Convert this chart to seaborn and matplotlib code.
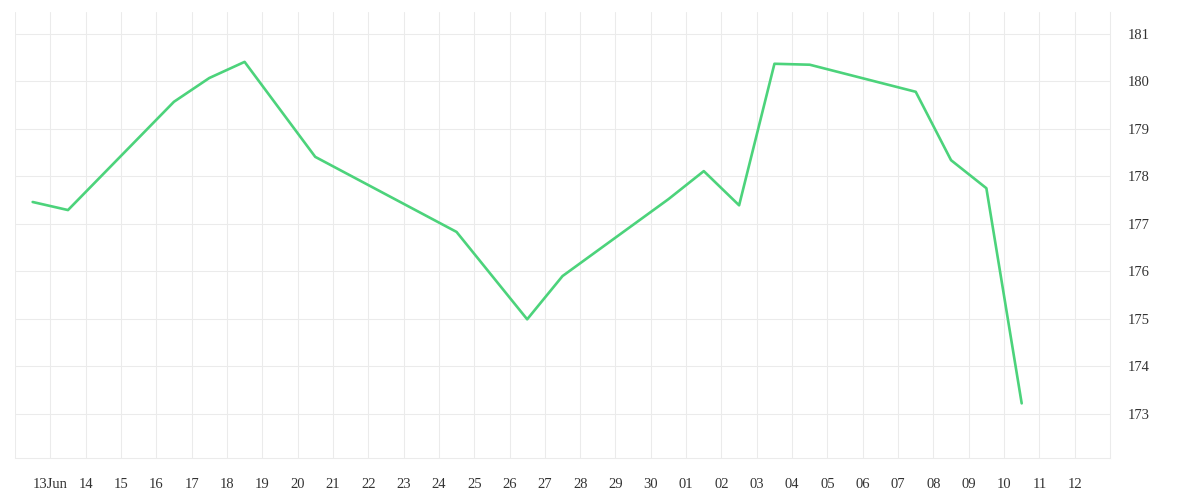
import numpy as np
import pandas as pd
import seaborn as sns
import matplotlib.pyplot as plt
import matplotlib.dates as mdates

# Dados (valores ao meio-dia de cada pregão)
dates = ['2023-06-12', '2023-06-13', '2023-06-16', '2023-06-17', '2023-06-18',
         '2023-06-20', '2023-06-24', '2023-06-26', '2023-06-27', '2023-06-30',
         '2023-07-01', '2023-07-02', '2023-07-03', '2023-07-04', '2023-07-07',
         '2023-07-08', '2023-07-09', '2023-07-10']
values = [177.46, 177.29, 179.57, 180.07, 180.41,
          178.41, 176.83, 174.99, 175.90, 177.52,
          178.11, 177.39, 180.37, 180.35, 179.78,
          178.34, 177.75, 173.22]

tick_days = pd.date_range('2023-06-12', '2023-07-12', freq='D')
tick_labels = [''] + ['13Jun'] + [d.strftime('%d') for d in tick_days[2:]]
y_ticks = [173, 174, 175, 176, 177, 178, 179, 180, 181]

df = pd.DataFrame({'date': pd.to_datetime(dates) + pd.Timedelta(hours=12),
                   'value': values})

sns.set_style('white')
plt.rcParams['font.family'] = ['Liberation Serif', 'DejaVu Serif']

grid_color = '#ebebeb'
line_color = '#4cd37b'

fig = plt.figure(figsize=(12, 5), dpi=100)
ax = fig.add_axes([0.0125, 0.084, 0.9125, 0.892])

sns.lineplot(data=df, x='date', y='value', ax=ax, color=line_color, linewidth=1.9)

ax.set_xlim(pd.Timestamp('2023-06-12'), pd.Timestamp('2023-07-13'))
ax.set_ylim(172.07, 181.46)

ax.set_xticks(tick_days)
ax.set_xticklabels(tick_labels)
ax.set_yticks(y_ticks)
ax.yaxis.tick_right()

ax.grid(True, color=grid_color, linewidth=0.75)
ax.set_axisbelow(True)

for side in ['top', 'left']:
    ax.spines[side].set_visible(False)
for side in ['bottom', 'right']:
    ax.spines[side].set_color(grid_color)
    ax.spines[side].set_linewidth(0.75)

ax.tick_params(axis='x', length=6.5, width=0.75, color=grid_color, pad=8,
               labelsize=10.5, labelcolor='#333333')
ax.tick_params(axis='y', length=0, pad=13, labelsize=10.5, labelcolor='#333333')

ax.set_xlabel(None)
ax.set_ylabel(None)

plt.savefig('out.png', dpi=100)
plt.close()
